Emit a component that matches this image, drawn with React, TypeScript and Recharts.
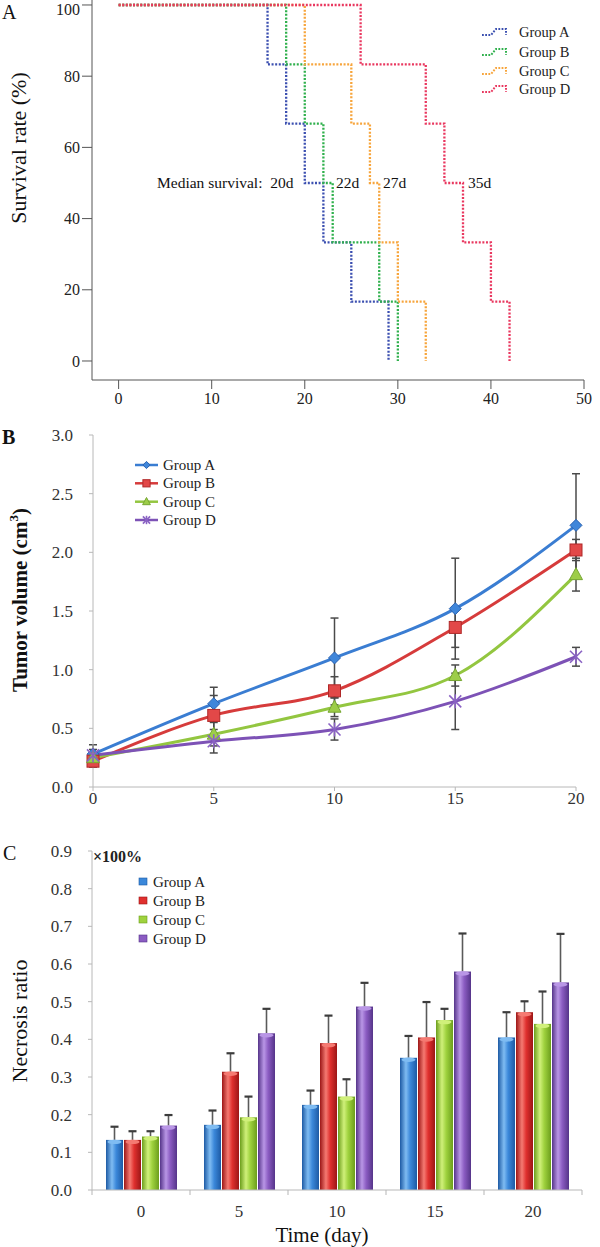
import React from 'react';
import { LineChart, Line, XAxis, YAxis, ErrorBar, BarChart, Bar } from 'recharts';

const SERIF = '"Liberation Serif", "Times New Roman", Times, serif';

const groupNames = ['Group A', 'Group B', 'Group C', 'Group D'];

// ---------- Panel A : survival ----------
const kmDaysA = [0, 16, 18, 20, 22, 25, 29];
const kmDaysB = [0, 18, 20, 22, 23, 28, 30];
const kmDaysC = [0, 20, 25, 27, 28, 30, 33];
const kmDaysD = [0, 26, 33, 35, 37, 40, 42];
const kmSurvival = [100, 83.3, 66.7, 50, 33.3, 16.7, 0];
const kmTicksX = [0, 10, 20, 30, 40, 50];
const kmTicksY = [0, 20, 40, 60, 80, 100];
const medianTexts = ['Median survival:  20d', '22d', '27d', '35d'];
const kmColors = ['#3b4fb0', '#2fb04c', '#f7a53c', '#e9375f'];

// ---------- Panel B : tumor volume ----------
const days = [0, 5, 10, 15, 20];
const volA = [0.28, 0.71, 1.1, 1.52, 2.23];
const volB = [0.22, 0.61, 0.82, 1.36, 2.02];
const volC = [0.25, 0.45, 0.68, 0.95, 1.81];
const volD = [0.27, 0.39, 0.49, 0.73, 1.11];
const volErrA = [0.08, 0.14, 0.34, 0.43, 0.44];
const volErrB = [0.05, 0.17, 0.12, 0.17, 0.09];
const volErrC = [0.04, 0.1, 0.08, 0.09, 0.14];
const volErrD = [0.05, 0.1, 0.09, 0.24, 0.08];
const volTicksY = [0, 0.5, 1, 1.5, 2, 2.5, 3];
const lineColors = ['#3a7dd2', '#d63b3b', '#93c640', '#7d52b6'];

// ---------- Panel C : necrosis ratio ----------
const necA = [0.133, 0.173, 0.226, 0.351, 0.405];
const necB = [0.133, 0.314, 0.39, 0.405, 0.472];
const necC = [0.142, 0.193, 0.248, 0.451, 0.441];
const necD = [0.171, 0.416, 0.487, 0.58, 0.551];
const necErrA = [0.035, 0.038, 0.038, 0.058, 0.067];
const necErrB = [0.023, 0.049, 0.073, 0.094, 0.029];
const necErrC = [0.014, 0.055, 0.046, 0.03, 0.086];
const necErrD = [0.028, 0.065, 0.063, 0.101, 0.129];
const necTicksY = [0, 0.1, 0.2, 0.3, 0.4, 0.5, 0.6, 0.7, 0.8, 0.9];
const barBody = ['#3b88da', '#e0302e', '#9fd23e', '#8b5cc2'];
const barEdge = ['#1d5aa4', '#9c1616', '#6c9e1c', '#553489'];
const barTop = ['#7fbcf2', '#f57a72', '#d0f07a', '#b996e6'];

const kmSeries = [kmDaysA, kmDaysB, kmDaysC, kmDaysD].map((ds) =>
  ds.map((d, i) => ({ x: d, y: kmSurvival[i] }))
);

const volData = days.map((d, i) => ({
  day: d,
  A: volA[i], B: volB[i], C: volC[i], D: volD[i],
  eA: volErrA[i], eB: volErrB[i], eC: volErrC[i], eD: volErrD[i],
}));

const necData = days.map((d, i) => ({
  day: String(d),
  A: necA[i], B: necB[i], C: necC[i], D: necD[i],
  eA: necErrA[i], eB: necErrB[i], eC: necErrC[i], eD: necErrD[i],
}));

// ---------- markers ----------
const markerShape = (k: number, cx: number, cy: number, s: number, key?: string) => {
  if (k === 0)
    return (
      <polygon key={key} points={`${cx},${cy - 6 * s} ${cx + 6 * s},${cy} ${cx},${cy + 6 * s} ${cx - 6 * s},${cy}`}
        fill="#3f86da" stroke="#2a62b0" strokeWidth={1} />
    );
  if (k === 1)
    return (
      <rect key={key} x={cx - 6 * s} y={cy - 6 * s} width={12 * s} height={12 * s}
        fill="#e24848" stroke="#b02828" strokeWidth={1} />
    );
  if (k === 2)
    return (
      <polygon key={key} points={`${cx},${cy - 7 * s} ${cx + 6.5 * s},${cy + 5 * s} ${cx - 6.5 * s},${cy + 5 * s}`}
        fill="#9dcd48" stroke="#76a632" strokeWidth={1} />
    );
  return (
    <g key={key} stroke="#8a62c4" strokeWidth={1.6}>
      <line x1={cx} y1={cy - 7 * s} x2={cx} y2={cy + 7 * s} />
      <line x1={cx - 6 * s} y1={cy - 6 * s} x2={cx + 6 * s} y2={cy + 6 * s} />
      <line x1={cx + 6 * s} y1={cy - 6 * s} x2={cx - 6 * s} y2={cy + 6 * s} />
    </g>
  );
};

const makeDot = (k: number) => (p: any) => {
  const { cx, cy, index } = p;
  if (cx == null || cy == null) return <g key={`e${k}-${index}`} />;
  return markerShape(k, cx, cy, 1, `m${k}-${index}`);
};

// ---------- bar shape with upward error whisker ----------
const makeBarShape = (k: number, errKey: string) => (p: any) => {
  const { x, y, width, height, payload, value } = p;
  const v = Array.isArray(value) ? value[1] - value[0] : value;
  const perUnit = v ? height / v : 0;
  const e = payload[errKey] * perUnit;
  const cx = x + width / 2;
  return (
    <g>
      <line x1={cx} y1={y} x2={cx} y2={y - e} stroke="#5a5a5a" strokeWidth={1.6} />
      <line x1={cx - 4} y1={y - e} x2={cx + 4} y2={y - e} stroke="#3c3c3c" strokeWidth={2.2} />
      <rect x={x} y={y} width={width} height={height} fill={`url(#barGrad${k})`} />
      <ellipse cx={cx} cy={y + 2} rx={width / 2 - 1.5} ry={2.2} fill={barTop[k]} />
    </g>
  );
};

const CatTick = (p: any) => {
  const { x, y, payload, index, visibleTicksCount } = p;
  const half = payload.offset || 0;
  return (
    <g>
      <line x1={x - half} y1={y} x2={x - half} y2={y + 5} stroke="#b5b5b5" strokeWidth={1} />
      {index === visibleTicksCount - 1 && (
        <line x1={x + half} y1={y} x2={x + half} y2={y + 5} stroke="#b5b5b5" strokeWidth={1} />
      )}
      <text x={x} y={y + 27} textAnchor="middle" fontFamily={SERIF} fontSize={17} fill="#333">
        {payload.value}
      </text>
    </g>
  );
};

export default function App() {
  const tickA = { fontFamily: SERIF, fontSize: 16, fill: '#222' };
  const tickBC = { fontFamily: SERIF, fontSize: 17, fill: '#333' };
  return (
    <div style={{ position: 'absolute', left: 0, top: 0, width: 600, height: 1247, background: '#fff', overflow: 'hidden' }}>
      {/* Panel A */}
      <div style={{ position: 'absolute', left: 0, top: 0 }}>
        <LineChart width={600} height={410} margin={{ top: 0, right: 16, bottom: 0, left: 0 }}>
          <XAxis type="number" dataKey="x" domain={[-2.86, 50]} ticks={kmTicksX} allowDataOverflow
            height={30} tickSize={9} tickMargin={4} stroke="#555" tick={tickA} />
          <YAxis type="number" dataKey="y" domain={[-5.34, 101.4]} ticks={kmTicksY} allowDataOverflow
            width={92} tickSize={10} tickMargin={2} stroke="#555" tick={tickA} />
          {kmSeries.map((s, i) => (
            <Line key={i} data={s} dataKey="y" type="stepAfter" stroke={kmColors[i]} strokeWidth={2.3}
              strokeDasharray="2 1.6" dot={false} isAnimationActive={false} name={groupNames[i]} />
          ))}
        </LineChart>
      </div>

      {/* Panel B */}
      <div style={{ position: 'absolute', left: 0, top: 400 }}>
        <LineChart width={600} height={420} data={volData} margin={{ top: 35, right: 24, bottom: 0, left: 0 }}>
          <XAxis type="number" dataKey="day" domain={[0, 20]} ticks={days} height={33}
            tickSize={4} tickMargin={1} stroke="#b8b8b8" tick={tickBC} />
          <YAxis type="number" domain={[0, 3]} ticks={volTicksY} width={93} tickSize={4} tickMargin={16}
            stroke="#b8b8b8" tick={tickBC} tickFormatter={(v: number) => v.toFixed(1)} />
          {['A', 'B', 'C', 'D'].map((k, i) => (
            <Line key={k} dataKey={k} type="monotone" stroke={lineColors[i]} strokeWidth={3}
              dot={makeDot(i)} activeDot={false} isAnimationActive={false} name={groupNames[i]}>
              <ErrorBar dataKey={`e${k}`} direction="y" width={4} stroke="#4a4a4a" strokeWidth={1.5} />
            </Line>
          ))}
        </LineChart>
      </div>

      {/* Panel C */}
      <div style={{ position: 'absolute', left: 0, top: 800 }}>
        <BarChart width={600} height={447} data={necData} margin={{ top: 51, right: 18, bottom: 0, left: 0 }}
          barSize={17} barGap={1}>
          <defs>
            {barBody.map((c, i) => (
              <linearGradient key={i} id={`barGrad${i}`} x1="0" y1="0" x2="1" y2="0">
                <stop offset="0" stopColor={barEdge[i]} />
                <stop offset="0.35" stopColor={barTop[i]} />
                <stop offset="0.6" stopColor={c} />
                <stop offset="1" stopColor={barEdge[i]} />
              </linearGradient>
            ))}
          </defs>
          <XAxis dataKey="day" type="category" height={57} tickSize={0} tickMargin={0} tickLine={false}
            stroke="#b8b8b8" tick={<CatTick />} interval={0} />
          <YAxis type="number" domain={[0, 0.9]} ticks={necTicksY} width={92} tickSize={4} tickMargin={16}
            stroke="#b8b8b8" tick={tickBC} tickFormatter={(v: number) => v.toFixed(1)} allowDataOverflow />
          {['A', 'B', 'C', 'D'].map((k, i) => (
            <Bar key={k} dataKey={k} name={groupNames[i]} fill={barBody[i]} isAnimationActive={false}
              shape={makeBarShape(i, `e${k}`)} />
          ))}
        </BarChart>
      </div>

      {/* Text overlay: panel letters, titles, legends, annotations */}
      <svg width={600} height={1247} style={{ position: 'absolute', left: 0, top: 0, pointerEvents: 'none' }}
        fontFamily={SERIF}>
        {/* panel letters */}
        <text x={2} y={19} fontSize={20} fill="#111">A</text>
        <text x={2} y={444} fontSize={20} fontWeight="bold" fill="#111">B</text>
        <text x={3} y={860} fontSize={20} fill="#111">C</text>

        {/* axis titles */}
        <text x={18} y={148} fontSize={22} fill="#111" textAnchor="middle" dominantBaseline="central"
          transform="rotate(-90, 18, 148)">Survival rate (%)</text>
        <text x={20} y={600} fontSize={21} fontWeight="bold" fill="#111" textAnchor="middle"
          dominantBaseline="central" transform="rotate(-90, 20, 600)">
          Tumor volume (cm<tspan dy={-7} fontSize={13}>3</tspan><tspan dy={7}>)</tspan>
        </text>
        <text x={19} y={1021} fontSize={22} fill="#111" textAnchor="middle" dominantBaseline="central"
          transform="rotate(-90, 19, 1021)">Necrosis ratio</text>
        <text x={322} y={1242} fontSize={21} fill="#111" textAnchor="middle">Time (day)</text>

        {/* median survival labels */}
        <text x={157} y={188} fontSize={15.5} fill="#111" xmlSpace="preserve">{medianTexts[0]}</text>
        <text x={336} y={188} fontSize={15.5} fill="#111">{medianTexts[1]}</text>
        <text x={383} y={188} fontSize={15.5} fill="#111">{medianTexts[2]}</text>
        <text x={468} y={188} fontSize={15.5} fill="#111">{medianTexts[3]}</text>

        {/* legend A */}
        {groupNames.map((g, i) => {
          const cy = [32, 52, 71, 89][i];
          return (
            <g key={g}>
              <path d={`M482,${cy + 3} H491 L496,${cy - 3} H506 V${cy + 3}`} fill="none" stroke={kmColors[i]}
                strokeWidth={2} strokeDasharray="1.8 1.4" />
              <text x={519} y={cy + 5} fontSize={14.5} fill="#222">{g}</text>
            </g>
          );
        })}

        {/* legend B */}
        {groupNames.map((g, i) => {
          const cy = [465, 483.3, 501.7, 520][i];
          return (
            <g key={g}>
              <line x1={135} y1={cy} x2={158} y2={cy} stroke={lineColors[i]} strokeWidth={2.5} />
              {markerShape(i, 146.5, cy, 0.6)}
              <text x={163} y={cy + 5} fontSize={15} fill="#222">{g}</text>
            </g>
          );
        })}

        {/* legend C */}
        <text x={93} y={862} fontSize={16} fontWeight="bold" fill="#222">×100%</text>
        {groupNames.map((g, i) => {
          const cy = [882, 901, 920, 939][i];
          return (
            <g key={g}>
              <rect x={139} y={cy - 4} width={8} height={7} fill={barBody[i]} stroke={barEdge[i]} strokeWidth={0.6} />
              <text x={153} y={cy + 5} fontSize={15} fill="#222">{g}</text>
            </g>
          );
        })}
      </svg>
    </div>
  );
}
